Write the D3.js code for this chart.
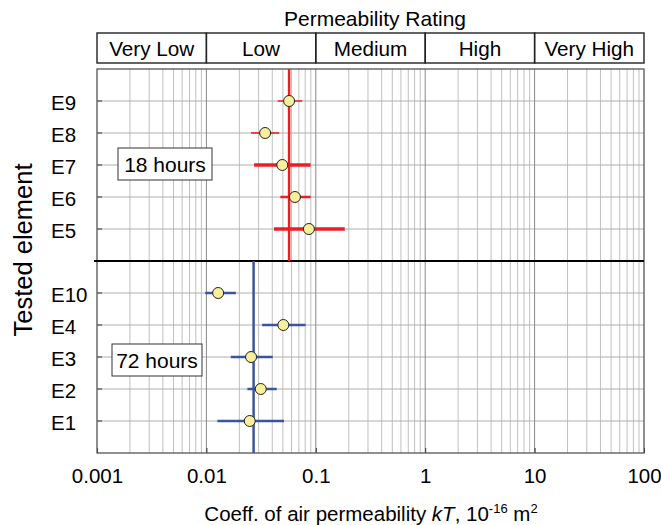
<!DOCTYPE html>
<html><head><meta charset="utf-8">
<script src="https://cdn.jsdelivr.net/npm/d3@7"></script>
<style>body{margin:0;background:#fff}svg{display:block;font-family:"Liberation Sans",Arial,sans-serif}</style>
</head><body><svg id="c" width="661" height="525"></svg>
<script>
// ---- data ----
const ratingLabels = ["Very Low", "Low", "Medium", "High", "Very High"];
const ratingBounds = [0.001, 0.01, 0.1, 1, 10, 100];
const xTickValues = [0.001, 0.01, 0.1, 1, 10, 100];
const xTickLabels = ["0.001", "0.01", "0.1", "1", "10", "100"];
const rowOrder = ["E9", "E8", "E7", "E6", "E5", "|", "E10", "E4", "E3", "E2", "E1"];

const cats18 = ["E9", "E8", "E7", "E6", "E5"];
const val18 = [0.057, 0.0344, 0.0494, 0.0645, 0.0865];
const lo18 = [0.0449, 0.0256, 0.0273, 0.0474, 0.0415];
const hi18 = [0.0752, 0.0464, 0.0897, 0.0897, 0.184];
const mean18 = 0.057;

const cats72 = ["E10", "E4", "E3", "E2", "E1"];
const val72 = [0.0128, 0.0505, 0.0256, 0.0314, 0.0249];
const lo72 = [0.00975, 0.0323, 0.0167, 0.0237, 0.0126];
const hi72 = [0.0186, 0.0807, 0.0404, 0.0439, 0.0512];
const mean72 = 0.027;

// ---- styles ----
const bw18 = [2, 2, 3.5, 2.5, 3.5];
const bo18 = [0.75, 0.8, 1, 1, 1];
const bw72 = [2.5, 2.5, 2.5, 2.5, 2.5];
const RED = "#ee1d23", BLUE = "#3a54a4";

const svg = d3.select("#c");
const L = 97, R = 644, T = 69, B = 453;
const x = d3.scaleLog().domain([0.001, 100]).range([L, R]);
const y = d3.scalePoint().domain(rowOrder).range([T, B]).padding(1);

// grid
const minor = x.ticks().filter(v => !xTickValues.includes(v));
const g = svg.append("g");
g.selectAll(".mv").data(minor).join("line")
  .attr("x1", d => x(d)).attr("x2", d => x(d)).attr("y1", T).attr("y2", B)
  .attr("stroke", "#c0c0c0").attr("stroke-width", 1);
g.selectAll(".hv").data(rowOrder.filter(r => r !== "|")).join("line")
  .attr("x1", L).attr("x2", R).attr("y1", d => y(d)).attr("y2", d => y(d))
  .attr("stroke", "#b0b0b0").attr("stroke-width", 1);
g.selectAll(".Mv").data(xTickValues.slice(1, -1)).join("line")
  .attr("x1", d => x(d)).attr("x2", d => x(d)).attr("y1", T).attr("y2", B)
  .attr("stroke", "#888").attr("stroke-width", 1);

// y ticks (inward)
svg.append("g").selectAll("line").data(rowOrder.filter(r => r !== "|")).join("line")
  .attr("x1", L).attr("x2", L + 5).attr("y1", d => y(d)).attr("y2", d => y(d))
  .attr("stroke", "#333").attr("stroke-width", 1);

// x axis
const xa = d3.axisBottom(x).tickValues(xTickValues)
  .tickFormat((d, i) => xTickLabels[i]).tickSizeInner(-5).tickSizeOuter(0).tickPadding(15);
const ax = svg.append("g").attr("transform", `translate(0,${B})`).call(xa);
ax.select(".domain").remove();
ax.selectAll(".tick line").attr("stroke", "#333");
ax.selectAll("text").attr("font-size", 20.5).attr("fill", "#000")
  .attr("font-family", "Liberation Sans, Arial, sans-serif");

// frame
svg.append("rect").attr("x", L).attr("y", T).attr("width", R - L).attr("height", B - T)
  .attr("fill", "none").attr("stroke", "#555").attr("stroke-width", 1.3);

// divider
const dy = y("|");
svg.append("line").attr("x1", L - 3).attr("x2", R).attr("y1", dy).attr("y2", dy)
  .attr("stroke", "#000").attr("stroke-width", 2.2);

// y labels
svg.append("g").selectAll("text").data(rowOrder.filter(r => r !== "|")).join("text")
  .attr("x", 51).attr("y", d => y(d) + 8.5).attr("text-anchor", "start")
  .attr("font-size", 20.5).text(d => d);

svg.append("text").attr("transform", `translate(32,250) rotate(-90)`)
  .attr("text-anchor", "middle").attr("font-size", 25.5).text("Tested element");

// mean lines
svg.append("line").attr("x1", x(mean18)).attr("x2", x(mean18)).attr("y1", T).attr("y2", dy)
  .attr("stroke", RED).attr("stroke-width", 2.5);
svg.append("line").attr("x1", x(mean72)).attr("x2", x(mean72)).attr("y1", dy).attr("y2", B)
  .attr("stroke", BLUE).attr("stroke-width", 2.5);

// error bars
function bars(cats, lo, hi, widths, op, color) {
  svg.append("g").selectAll("line").data(cats).join("line")
    .attr("x1", (d, i) => x(lo[i])).attr("x2", (d, i) => x(hi[i]))
    .attr("y1", d => y(d)).attr("y2", d => y(d))
    .attr("stroke", color).attr("stroke-width", (d, i) => widths[i])
    .attr("stroke-opacity", (d, i) => op ? op[i] : 1);
}
bars(cats18, lo18, hi18, bw18, bo18, RED);
bars(cats72, lo72, hi72, bw72, null, BLUE);

function pts(cats, vals) {
  svg.append("g").selectAll("circle").data(cats).join("circle")
    .attr("cx", (d, i) => x(vals[i])).attr("cy", d => y(d)).attr("r", 5.5)
    .attr("fill", "#f8ef9c").attr("stroke", "#222").attr("stroke-width", 1);
}
pts(cats18, val18);
pts(cats72, val72);

// label boxes
function labelBox(text, bx, by, bwid, bh) {
  svg.append("rect").attr("x", bx).attr("y", by).attr("width", bwid).attr("height", bh)
    .attr("fill", "#fff").attr("stroke", "#333").attr("stroke-width", 1);
  svg.append("text").attr("x", bx + bwid / 2).attr("y", by + bh / 2 + 7.5)
    .attr("text-anchor", "middle").attr("font-size", 21).text(text);
}
labelBox("18 hours", 118, 148, 94, 32);
labelBox("72 hours", 112, 344, 90, 32);

// permeability rating
svg.append("text").attr("x", 375).attr("y", 26).attr("text-anchor", "middle")
  .attr("font-size", 21).text("Permeability Rating");
const rt = 33, rb = 63;
const rg = svg.append("g");
rg.selectAll("rect").data(ratingLabels).join("rect")
  .attr("x", (d, i) => x(ratingBounds[i])).attr("y", rt)
  .attr("width", (d, i) => x(ratingBounds[i + 1]) - x(ratingBounds[i])).attr("height", rb - rt)
  .attr("fill", "none").attr("stroke", "#222").attr("stroke-width", 1.4);
rg.selectAll("text").data(ratingLabels).join("text")
  .attr("x", (d, i) => (x(ratingBounds[i]) + x(ratingBounds[i + 1])) / 2).attr("y", rt + 23)
  .attr("text-anchor", "middle").attr("font-size", 20.7).text(d => d);

// x title
const t = svg.append("text").attr("x", 371).attr("y", 521).attr("text-anchor", "middle").attr("font-size", 20.5);
t.append("tspan").text("Coeff. of air permeability ");
t.append("tspan").attr("font-style", "italic").text("kT");
t.append("tspan").text(", 10");
t.append("tspan").attr("font-size", 13).attr("dy", -8).text("-16");
t.append("tspan").attr("dy", 8).text(" m");
t.append("tspan").attr("font-size", 13).attr("dy", -8).text("2");
</script></body></html>
